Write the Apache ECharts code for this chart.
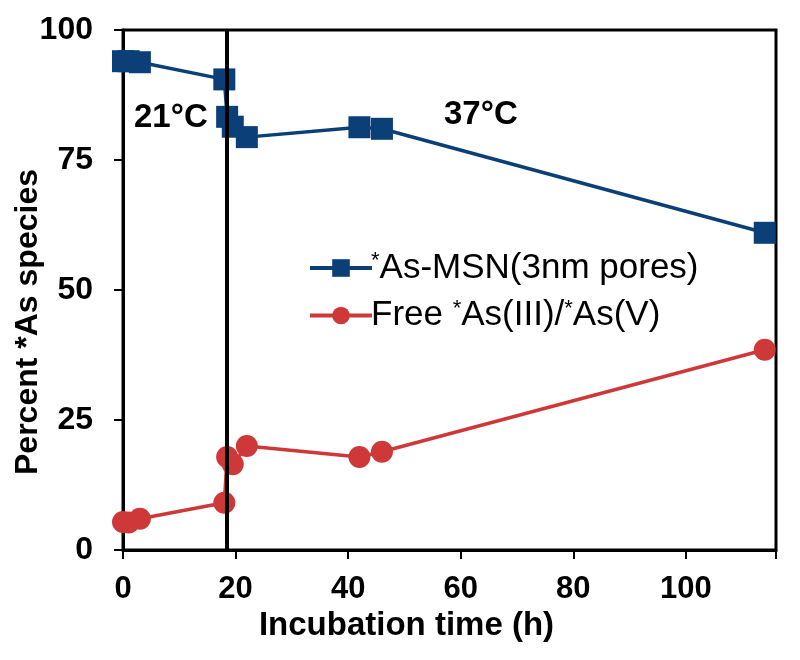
<!DOCTYPE html>
<html><head><meta charset="utf-8">
<script src="https://cdn.jsdelivr.net/npm/echarts@6/dist/echarts.min.js"></script>
<style>html,body{margin:0;padding:0;background:#fff}#c{width:800px;height:660px}</style>
</head><body><div id="c"></div>
<script>
const times = [0, 1, 3, 18, 18.5, 19.5, 22, 42, 46, 114];
const msnValues = [94, 94, 93.8, 90.5, 83.3, 81.4, 79.4, 81.3, 81, 61];
const freeValues = [5.4, 5.3, 6, 9.1, 17.9, 16.5, 20, 17.9, 18.9, 38.5];
const seriesNames = ['*As-MSN(3nm pores)', 'Free *As(III)/*As(V)'];
const switchTime = 18.4;
const xTicks = [0, 20, 40, 60, 80, 100];
const yTicks = [0, 25, 50, 75, 100];
const tempLabels = ['21°C', '37°C'];

const pair = (xs, ys) => xs.map((x, i) => [x, ys[i]]);
const chart = echarts.init(document.getElementById('c'));
const FF = '"Liberation Sans", Arial, sans-serif';
const BLUE = '#0B3F78', RED = '#CF3838';
chart.setOption({
  animation: false,
  grid: {left: 123, right: 24, top: 30, bottom: 110, show: true, borderColor: '#000', borderWidth: 3, backgroundColor: 'transparent'},
  xAxis: {
    type: 'value', min: 0, max: 116, interval: 20,
    name: 'Incubation time (h)', nameLocation: 'middle', nameGap: 54,
    nameTextStyle: {fontFamily: FF, fontWeight: 'bold', fontSize: 33, color: '#000', padding: [0, 86, 0, 0]},
    axisLine: {lineStyle: {color: '#000', width: 3}},
    axisTick: {show: true, length: 9, lineStyle: {color: '#000', width: 2}},
    axisLabel: {fontFamily: FF, fontWeight: 'bold', fontSize: 31, color: '#000', margin: 24,
      formatter: v => xTicks.includes(v) ? String(v) : ''},
    splitLine: {show: false}
  },
  yAxis: {
    type: 'value', min: 0, max: 100, interval: 25,
    axisLine: {lineStyle: {color: '#000', width: 3}},
    axisTick: {show: true, length: 9, lineStyle: {color: '#000', width: 2}},
    axisLabel: {fontFamily: FF, fontWeight: 'bold', fontSize: 32, color: '#000', margin: 30,
      formatter: v => yTicks.includes(v) ? String(v) : ''},
    splitLine: {show: false}
  },
  legend: {
    orient: 'vertical', left: 303, top: 245, itemGap: 12, itemWidth: 62, itemHeight: 22,
    lineStyle: {width: 4},
    formatter: n => n.split('*').join('{sup|*}'),
    textStyle: {fontFamily: FF, fontSize: 35, color: '#000', padding: [0,0,0,-6],
      rich: {sup: {fontFamily: FF, fontSize: 22, color: '#000', padding: [0, 0, 14, 0]}}},
    data: seriesNames
  },
  series: [
    {
      name: seriesNames[0], type: 'line', data: pair(times, msnValues),
      symbol: 'rect', symbolSize: 22, color: BLUE,
      lineStyle: {width: 3.5, color: BLUE}, itemStyle: {color: BLUE},
      markLine: {silent: true, symbol: 'none', label: {show: false},
        lineStyle: {color: '#000', width: 4, type: 'solid'}, data: [{xAxis: switchTime}]}
    },
    {
      name: seriesNames[1], type: 'line', data: pair(times, freeValues),
      symbol: 'circle', symbolSize: 22, color: RED,
      lineStyle: {width: 3.5, color: RED}, itemStyle: {color: RED}
    }
  ],
  graphic: [
    {type: 'text', x: 28, y: 322, rotation: Math.PI / 2,
      style: {text: 'Percent *As species', font: 'bold 32px ' + FF, fill: '#000', align: 'center', verticalAlign: 'middle'}},
    {type: 'text', left: 134, top: 101, style: {text: tempLabels[0], font: 'bold 33px ' + FF, fill: '#000'}},
    {type: 'text', left: 444, top: 98, style: {text: tempLabels[1], font: 'bold 33px ' + FF, fill: '#000'}}
  ]
});
</script></body></html>
